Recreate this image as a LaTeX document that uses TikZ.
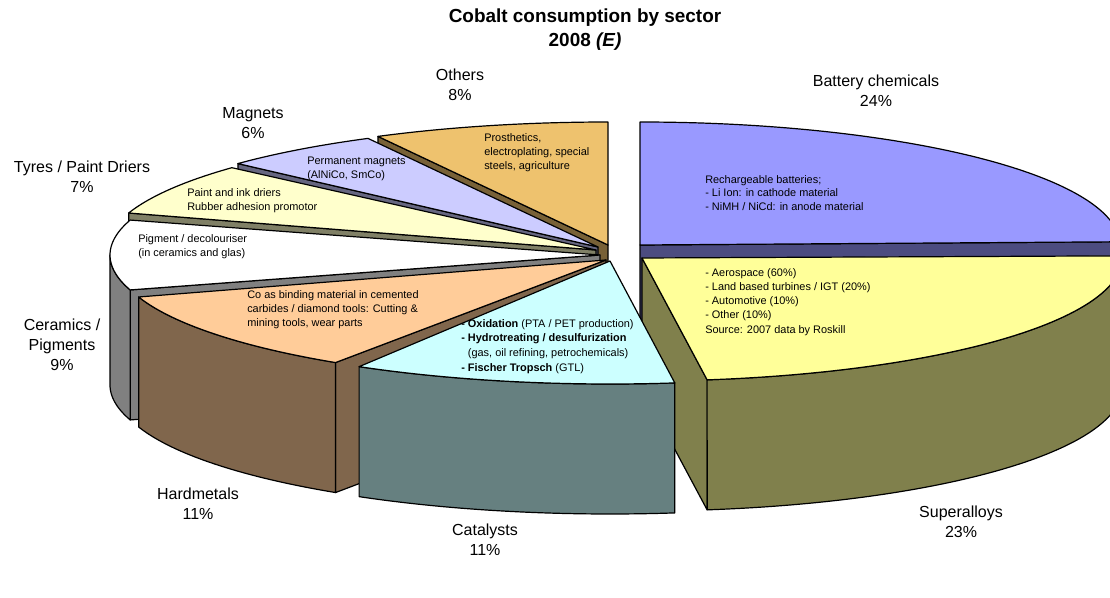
\documentclass[tikz,border=0pt]{standalone}
\usepackage{fontspec}
\setmainfont{Liberation Sans}
\definecolor{batT}{HTML}{9999FF}\definecolor{batS}{HTML}{4C4C80}
\definecolor{supT}{HTML}{FFFF99}\definecolor{supS}{HTML}{80804C}
\definecolor{catT}{HTML}{CCFFFF}\definecolor{catS}{HTML}{668080}
\definecolor{harT}{HTML}{FFCC99}\definecolor{harS}{HTML}{80664C}
\definecolor{cerT}{HTML}{FFFFFF}\definecolor{cerS}{HTML}{808080}
\definecolor{tyrT}{HTML}{FFFFCC}\definecolor{tyrS}{HTML}{808066}
\definecolor{magT}{HTML}{CCCCFF}\definecolor{magS}{HTML}{666680}
\definecolor{othT}{HTML}{EEC26E}\definecolor{othS}{HTML}{786137}
% top face of an exploded slice: [x radius] apex x, apex y, start angle, end angle, colour
\newcommand{\pietop}[6][490]{%
  \filldraw[face,fill=#6] (#2,#3) -- plot[domain=#4:#5,samples=90,variable=\t] ({#2+#1*cos(\t)},{#3-123*sin(\t)}) -- cycle;}
% outer (rim) face
\newcommand{\pieouter}[6][490]{%
  \filldraw[face,fill=#6] plot[domain=#4:#5,samples=90,variable=\t] ({#2+#1*cos(\t)},{#3-123*sin(\t)}) -- plot[domain=#5:#4,samples=90,variable=\t] ({#2+#1*cos(\t)},{#3+130-123*sin(\t)}) -- cycle;}
% radial cut face
\newcommand{\pieside}[5][490]{%
  \filldraw[face,fill=#5] (#2,#3) -- ({#2+#1*cos(#4)},{#3-123*sin(#4)}) -- ({#2+#1*cos(#4)},{#3+130-123*sin(#4)}) -- (#2,{#3+130}) -- cycle;}
\begin{document}
\begin{tikzpicture}[x=0.75pt,y=-0.75pt,
  face/.style={draw=black,line width=0.9pt,line join=round},
  lbl/.style={font=\fontsize{12}{15}\selectfont,align=center,inner sep=0pt},
  txt/.style={font=\fontsize{8.2}{10.5}\selectfont,align=left,anchor=north west,inner sep=0pt},
  ttl/.style={font=\fontsize{14.2}{18}\selectfont\bfseries,align=center,inner sep=0pt}]
\useasboundingbox (0,0) rectangle (1110,598);
\fill[white] (0,0) rectangle (1110,598);
\begin{scope}
\clip (0,0) rectangle (1110,598);
% Others
\pieside{608}{245}{118}{othS}
\pietop{608}{245}{90}{118}{othT}
% Battery chemicals
\pieside[480]{640}{245}{1.5}{batS}
\pietop[480]{640}{245}{1.5}{90}{batT}
% Magnets
\pieside{598}{247}{137.3}{magS}
\pietop{598}{247}{118}{137.3}{magT}
% Tyres / Paint driers
\pieside{596}{250}{162.5}{tyrS}
\pietop{596}{250}{138}{162.5}{tyrT}
% Ceramics / Pigments
\pieside{600}{255}{196.5}{cerS}
\pieouter{600}{255}{180}{196.5}{cerS}
\pietop{600}{255}{163.5}{196.5}{cerT}
% Hardmetals
\pieside{606}{260}{236.5}{harS}
\pieouter{606}{260}{197.5}{236.5}{harS}
\pietop{606}{260}{197.5}{236.5}{harT}
% Superalloys
\pieside[480]{642}{258}{277.8}{supS}
\pieouter[480]{642}{258}{277.8}{360}{supS}
\pietop[480]{642}{258}{277.8}{361}{supT}
% Catalysts
\pieouter{610}{261}{239.2}{277.6}{catS}
\pietop{610}{261}{239.2}{277.6}{catT}
\end{scope}
% title
\node[ttl] (title) at (585,30) {Cobalt consumption by sector\\2008 \textit{(E)}};
% outside labels
\node[lbl] (lbat) at (876,91) {Battery chemicals\\24\%};
\node[lbl] (loth) at (460,85) {Others\\8\%};
\node[lbl] (lmag) at (253,123) {Magnets\\6\%};
\node[lbl] (ltyr) at (82,177) {Tyres / Paint Driers\\7\%};
\node[lbl] (lcer) at (62,345) {Ceramics /\\Pigments\\9\%};
\node[lbl] (lhar) at (198,504) {Hardmetals\\11\%};
\node[lbl] (lcat) at (485,540) {Catalysts\\11\%};
\node[lbl] (lsup) at (961,522) {Superalloys\\23\%};
% inside texts
\node[txt,font=\fontsize{8.2}{10.2}\selectfont] (tbat) at (705,175) {Rechargeable batteries;\\- Li Ion: in cathode material\\- NiMH / NiCd: in anode material};
\node[txt,font=\fontsize{8.2}{10.7}\selectfont] (tsup) at (705,268) {- Aerospace (60\%)\\- Land based turbines / IGT (20\%)\\- Automotive (10\%)\\- Other (10\%)\\Source: 2007 data by Roskill};
\node[txt,font=\fontsize{8.2}{11}\selectfont] (tcat) at (461,319) {\textbf{- Oxidation} (PTA / PET production)\\\textbf{- Hydrotreating / desulfurization}\\\hspace*{5pt}(gas, oil refining, petrochemicals)\\\textbf{- Fischer Tropsch} (GTL)};
\node[txt] (thar) at (247,290) {Co as binding material in cemented\\carbides / diamond tools: Cutting \&\\mining tools, wear parts};
\node[txt] (tcer) at (138,234) {Pigment / decolouriser\\(in ceramics and glas)};
\node[txt] (ttyr) at (187,188) {Paint and ink driers\\Rubber adhesion promotor};
\node[txt] (tmag) at (307,157) {Permanent magnets\\(AlNiCo, SmCo)};
\node[txt] (toth) at (484,133) {Prosthetics,\\electroplating, special\\steels, agriculture};
\end{tikzpicture}
\end{document}
